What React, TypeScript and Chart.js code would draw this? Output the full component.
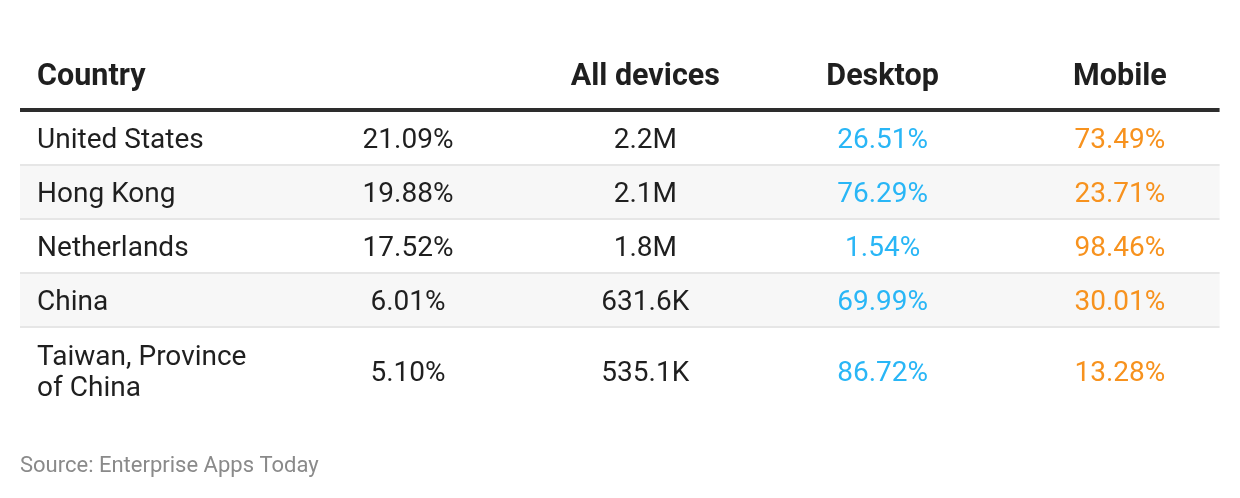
import React, { useEffect, useRef } from "react";
import { Chart, registerables } from "chart.js";

Chart.register(...registerables);

const headers = ["Country", "", "All devices", "Desktop", "Mobile"];
const countries = ["United States", "Hong Kong", "Netherlands", "China", "Taiwan, Province\nof China"];
const shares = ["21.09%", "19.88%", "17.52%", "6.01%", "5.10%"];
const allDevices = ["2.2M", "2.1M", "1.8M", "631.6K", "535.1K"];
const desktop = ["26.51%", "76.29%", "1.54%", "69.99%", "86.72%"];
const mobile = ["73.49%", "23.71%", "98.46%", "30.01%", "13.28%"];
const source = "Source: Enterprise Apps Today";

// layout (in scale units): row heights, 1 unit = one standard row
const rowHeights = [1, 1, 1, 1, 1.63];
const FONT = "Roboto, 'Noto Sans', sans-serif";
const BLUE = "#29b6f6";
const ORANGE = "#f7921e";
const TEXT = "#1f1f1f";

const tablePlugin = {
  id: "tablePlugin",
  afterDraw(chart: any) {
    const ctx = chart.ctx as CanvasRenderingContext2D;
    const xs = chart.scales.x;
    const ys = chart.scales.y;
    const left = xs.getPixelForValue(-0.635);
    const right = xs.getPixelForValue(4.42);
    const textLeft = xs.getPixelForValue(-0.563);

    const drawText = (t: string, x: number, yc: number, size: number, weight: string, color: string, align: CanvasTextAlign) => {
      ctx.font = `${weight} ${size}px ${FONT}`;
      ctx.fillStyle = color;
      ctx.textAlign = align;
      ctx.textBaseline = "alphabetic";
      ctx.fillText(t, x, yc + size * 0.711 / 2);
    };

    ctx.save();
    let top = 0;
    const rowTops: number[] = [];
    rowHeights.forEach((h) => { rowTops.push(top); top += h; });
    rowHeights.forEach((h, r) => {
      const y0 = ys.getPixelForValue(rowTops[r]);
      const y1 = ys.getPixelForValue(rowTops[r] + h);
      if (r % 2 === 1) {
        ctx.fillStyle = "#f7f7f7";
        ctx.fillRect(left, y0, right - left, y1 - y0);
      }
      if (r > 0) {
        ctx.fillStyle = "#e6e6e6";
        ctx.fillRect(left, y0, right - left, 2);
      }
    });
    const hl = ys.getPixelForValue(0);
    ctx.fillStyle = "#2d2d2d";
    ctx.fillRect(left, hl - 2, right - left, 4);

    const hy = ys.getPixelForValue(-0.657);
    const hs = 30.5;
    headers.forEach((h, c) => {
      if (!h) return;
      if (c === 0) drawText(h, textLeft, hy, hs, "bold", TEXT, "left");
      else drawText(h, xs.getPixelForValue(c), hy, hs, "bold", TEXT, "center");
    });

    const size = 28;
    countries.forEach((name, r) => {
      const yc = ys.getPixelForValue(rowTops[r] + rowHeights[r] / 2) + 1;
      const lines = name.split("\n");
      const lh = 31;
      lines.forEach((ln, i) => {
        drawText(ln, textLeft, yc + (i - (lines.length - 1) / 2) * lh, size, "normal", TEXT, "left");
      });
      drawText(shares[r], xs.getPixelForValue(1), yc, size, "normal", TEXT, "center");
      drawText(allDevices[r], xs.getPixelForValue(2), yc, size, "normal", TEXT, "center");
      drawText(desktop[r], xs.getPixelForValue(3), yc, size, "normal", BLUE, "center");
      drawText(mobile[r], xs.getPixelForValue(4), yc, size, "normal", ORANGE, "center");
    });

    drawText(source, left, ys.getPixelForValue(6.556), 22, "normal", "#8a8a8a", "left");
    ctx.restore();
  },
};

export default function App() {
  const ref = useRef<HTMLCanvasElement>(null);
  useEffect(() => {
    document.body.style.margin = "0";
    const chart = new Chart(ref.current!, {
      type: "scatter",
      data: { datasets: [] },
      options: {
        animation: false,
        responsive: false,
        devicePixelRatio: 1,
        layout: { padding: 0 },
        plugins: { legend: { display: false }, tooltip: { enabled: false } },
        scales: {
          x: { type: "linear", display: false, min: -170.7 / 237.3, max: (1240 - 170.7) / 237.3 },
          y: { type: "linear", display: false, reverse: true, min: -110 / 54, max: (498 - 110) / 54 },
        },
      },
      plugins: [tablePlugin],
    });
    return () => chart.destroy();
  }, []);
  return (
    <div style={{ width: 1240, height: 498, background: "#fff" }}>
      <canvas ref={ref} width={1240} height={498} />
    </div>
  );
}
